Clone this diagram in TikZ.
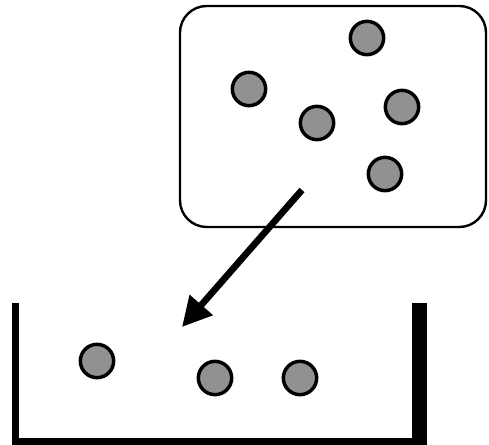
\documentclass[tikz,border=0pt]{standalone}
\usetikzlibrary{arrows.meta}
\definecolor{ballgray}{RGB}{145,145,145}
\tikzset{
  ball/.style={circle,draw=black,line width=2.6pt,fill=ballgray,minimum size=25pt,inner sep=0pt},
  wall/.style={fill=black,draw=none}
}
\begin{document}
\begin{tikzpicture}[x=0.75pt,y=0.75pt,yscale=-1,xscale=1]
\useasboundingbox (0,0) rectangle (489,445);

%Rounded Rect: gas container
\draw [line width=1.8pt,rounded corners=20pt] (180,6) rectangle (486,227);

%Balls inside the rounded rect
\node [ball] (g1) at (367,38) {};
\node [ball] (g2) at (249,89) {};
\node [ball] (g3) at (317,123) {};
\node [ball] (g4) at (402,107) {};
\node [ball] (g5) at (385,174) {};

%Open vessel
\fill [wall] (12,303) rectangle (19,445);
\fill [wall] (412,303) rectangle (427,445);
\fill [wall] (12,438) rectangle (427,445);

%Balls in the vessel
\node [ball] (v1) at (97,361) {};
\node [ball] (v2) at (215,378) {};
\node [ball] (v3) at (300,378) {};

%Arrow
\coordinate (src) at (302,190);
\coordinate (dst) at (182,327);
\draw [line width=5pt,-{Triangle[length=22pt,width=22pt]}] (src) -- (dst);
\end{tikzpicture}
\end{document}
